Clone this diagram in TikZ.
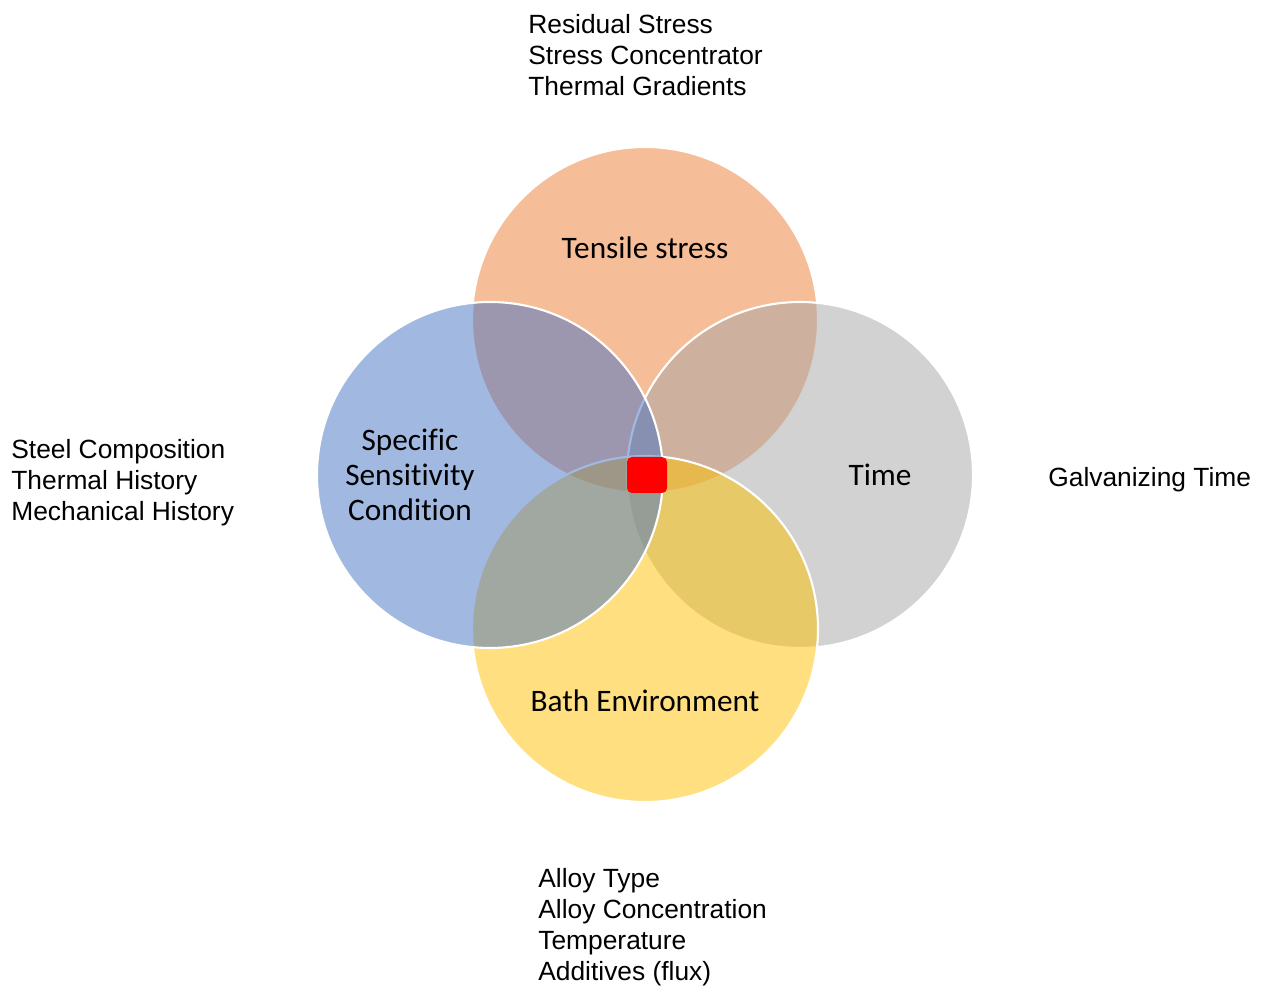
\documentclass[tikz,border=0pt]{standalone}
\usepackage{fontspec}
\setmainfont{Carlito}[Ligatures=CommonOff]
\newfontfamily\arialfont{Liberation Sans}
\usetikzlibrary{positioning}

\definecolor{cStress}{HTML}{ED7D31}
\definecolor{cTime}{HTML}{A5A5A5}
\definecolor{cBath}{HTML}{FFC000}
\definecolor{cCond}{HTML}{4472C4}

\tikzset{
	venn/.style={
		circle,
		draw=white, line width=1.2pt,
		fill opacity=0.5,
		minimum size=6.92cm,
		inner sep=0pt,
	},
	inlabel/.style={align=center, font=\fontsize{17.8}{20}\selectfont},
	outlabel/.style={anchor=west, align=left, inner sep=0pt, font=\arialfont\fontsize{15}{17.6}\selectfont},
}

\begin{document}
\begin{tikzpicture}
	\useasboundingbox (-12.9,9.5) rectangle (12.4,-10.28);
	\coordinate(O) at (0,0);
	
	\node[venn, fill=cStress, above of=O, node distance=3.1cm](STRESS){};
	\node[venn, fill=cTime, right of=O, node distance=3.1cm](TIME){};
	\node[venn, fill=cBath, below of=O, node distance=3.08cm](BATH){};
	\node[venn, fill=cCond, left of=O, node distance=3.1cm](COND){};
	
	\node[fill=red, rounded corners=0.1cm, minimum width=0.8cm, minimum height=0.72cm, inner sep=0pt, right of=O, node distance=0.04cm](CORE){};
	
	\node[inlabel, above of=STRESS, node distance=1.44cm](L1){Tensile stress};
	\node[inlabel, right of=TIME, node distance=1.6cm](L2){Time};
	\node[inlabel, below of=BATH, node distance=1.44cm](L3){Bath Environment};
	\node[inlabel, left of=COND, node distance=1.6cm](L4){Specific\\Sensitivity\\Condition};
	
	\node[outlabel] (T1) at (-2.34,8.4) {Residual Stress\\Stress Concentrator\\Thermal Gradients};
	\node[outlabel] (T2) at (8.06,-0.1) {Galvanizing Time};
	\node[outlabel] (T3) at (-2.14,-9.05) {Alloy Type\\Alloy Concentration\\Temperature\\Additives (flux)};
	\node[outlabel] (T4) at (-12.68,-0.16) {Steel Composition\\Thermal History\\Mechanical History};
\end{tikzpicture}
\end{document}
